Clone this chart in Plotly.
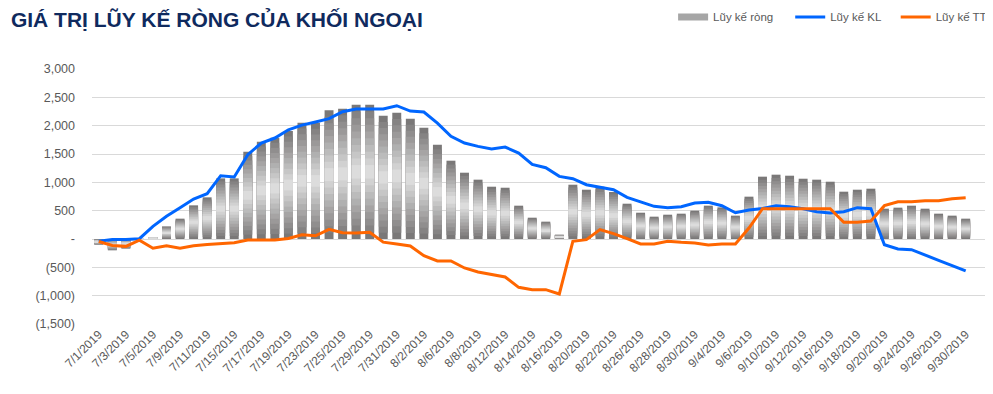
import plotly.graph_objects as go

dates = ["7/1/2019","7/2/2019","7/3/2019","7/4/2019","7/5/2019","7/8/2019","7/9/2019","7/10/2019",
         "7/11/2019","7/12/2019","7/15/2019","7/16/2019","7/17/2019","7/18/2019","7/19/2019","7/22/2019",
         "7/23/2019","7/24/2019","7/25/2019","7/26/2019","7/29/2019","7/30/2019","7/31/2019","8/1/2019",
         "8/2/2019","8/5/2019","8/6/2019","8/7/2019","8/8/2019","8/9/2019","8/12/2019","8/13/2019",
         "8/14/2019","8/15/2019","8/16/2019","8/19/2019","8/20/2019","8/21/2019","8/22/2019","8/23/2019",
         "8/26/2019","8/27/2019","8/28/2019","8/29/2019","8/30/2019","9/3/2019","9/4/2019","9/5/2019",
         "9/6/2019","9/9/2019","9/10/2019","9/11/2019","9/12/2019","9/13/2019","9/16/2019","9/17/2019",
         "9/18/2019","9/19/2019","9/20/2019","9/23/2019","9/24/2019","9/25/2019","9/26/2019","9/27/2019",
         "9/30/2019"]

luy_ke_rong = [-100,-200,-170,5,30,223,359,594,735,1070,1070,1540,1716,1787,1905,2052,
               2050,2270,2299,2370,2370,2175,2228,2123,1964,1664,1382,1170,1047,923,905,588,
               376,306,76,958,870,923,829,623,464,394,429,447,500,588,558,412,
               747,1100,1135,1117,1064,1047,1011,835,870,888,535,553,588,535,447,412,359]

luy_ke_kl = [-40,-10,-10,5,223,400,553,706,800,1117,1094,1488,1693,1782,1928,2010,
             2064,2123,2246,2293,2293,2293,2352,2258,2240,2046,1811,1693,1634,1587,1623,1517,
             1317,1258,1105,1064,958,911,870,735,653,576,553,570,635,647,588,464,
             510,538,588,570,535,482,460,482,553,535,-100,-176,-188,-276,-376,-470,-564]

luy_ke_tt = [-45,-115,-130,-20,-162,-118,-162,-118,-97,-85,-65,-18,-15,-18,8,76,
             56,170,110,106,120,-56,-88,-124,-294,-388,-388,-511,-582,-623,-670,-853,
             -894,-894,-970,-41,-12,165,94,6,-88,-88,-41,-59,-71,-106,-88,-88,
             194,535,535,535,535,535,535,294,294,318,588,658,658,676,676,711,729]

y_tick_vals = [3000, 2500, 2000, 1500, 1000, 500, 0, -500, -1000, -1500]
y_tick_text = ["3,000", "2,500", "2,000", "1,500", "1,000", "500", "-", "(500)", "(1,000)", "(1,500)"]

x = list(range(len(dates)))
tick_idx = x[::2]
tick_lbl = dates[::2]

fig = go.Figure()

# gradient bars built from overlaid layers
edge = (122, 120, 120)
center = (220, 220, 220)
N = 10
for k in range(N):
    f = k / (2 * N)
    t = k / (N - 1)
    c = tuple(int(round(edge[j] + (center[j] - edge[j]) * t)) for j in range(3))
    col = "rgb(%d,%d,%d)" % c
    fig.add_trace(go.Bar(
        x=x,
        y=[v * (1 - 2 * f) for v in luy_ke_rong],
        base=[v * f for v in luy_ke_rong],
        marker=dict(color=col, line=dict(width=0)),
        width=0.66,
        name="Lũy kế ròng",
        showlegend=False,
        legendgroup="rong",
    ))

# legend proxy for the bar series (wide grey swatch like the original)
fig.add_trace(go.Scatter(x=[None], y=[None], mode="lines", name="Lũy kế ròng",
                         line=dict(color="#A6A6A6", width=7), legendgroup="rong",
                         legend="legend"))

fig.add_trace(go.Scatter(x=x, y=luy_ke_kl, mode="lines", name="Lũy kế KL",
                         line=dict(color="#0066FF", width=3), legend="legend2"))
fig.add_trace(go.Scatter(x=x, y=luy_ke_tt, mode="lines", name="Lũy kế TT",
                         line=dict(color="#FF6600", width=3), legend="legend3"))

leg_common = dict(orientation="h", xanchor="left", y=1.204, yanchor="middle",
                  font=dict(size=11.5, color="#595959"), bgcolor="rgba(0,0,0,0)",
                  itemwidth=30)

fig.update_layout(
    width=985, height=386,
    margin=dict(l=84, r=7, t=61, b=70, autoexpand=False),
    paper_bgcolor="white", plot_bgcolor="white",
    barmode="overlay",
    font=dict(family="Liberation Sans, Arial, sans-serif", size=12, color="#595959"),
    title=dict(text="<b>GIÁ TRỊ LŨY KẾ RÒNG CỦA KHỐI NGOẠI</b>",
               x=0.003, xanchor="left", y=0.969, yanchor="middle",
               font=dict(family="Liberation Sans, Arial, sans-serif", size=21, color="#0F2A5E")),
    legend=dict(x=0.650, **leg_common),
    legend2=dict(x=0.781, **leg_common),
    legend3=dict(x=0.899, **leg_common),
    showlegend=True,
)

fig.update_xaxes(range=[-0.5, 65.5], tickmode="array", tickvals=tick_idx, ticktext=tick_lbl,
                 tickangle=-45, showgrid=False, zeroline=False, showline=False, ticks="",
                 automargin=False, tickfont=dict(size=12, color="#595959"))
fig.update_yaxes(range=[-1500, 3000], tickmode="array", tickvals=y_tick_vals, ticktext=y_tick_text,
                 showgrid=True, gridcolor="#D9D9D9", gridwidth=1, zeroline=True,
                 zerolinecolor="#D9D9D9", zerolinewidth=1, ticks="", ticklabelstandoff=16,
                 automargin=False, tickfont=dict(size=12.5, color="#595959"))

fig.write_html("out.html")
